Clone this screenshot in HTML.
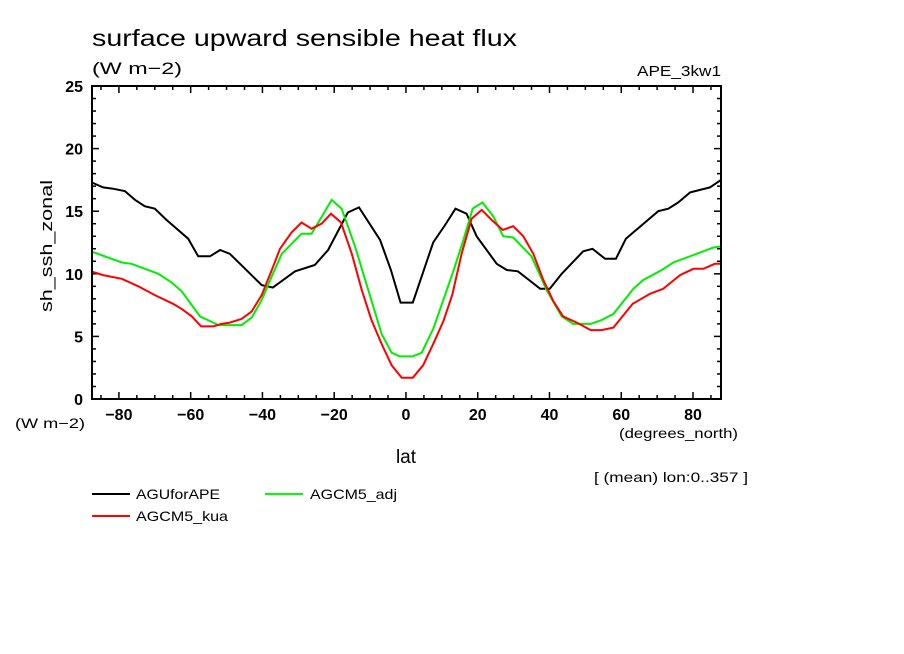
<!DOCTYPE html>
<html><head><meta charset="utf-8"><style>
body{margin:0;background:#fff;}
svg{display:block;font-family:"Liberation Sans",sans-serif;}
</style></head><body>
<svg id="chart" width="904" height="654" viewBox="0 0 904 654">
<text x="92" y="46" font-size="23" textLength="425" lengthAdjust="spacingAndGlyphs">surface upward sensible heat flux</text>
<text x="92" y="74" font-size="17" textLength="90" lengthAdjust="spacingAndGlyphs">(W m−2)</text>
<text x="637" y="76" font-size="15" textLength="84" lengthAdjust="spacingAndGlyphs">APE_3kw1</text>
<g id="axes"></g>
<g id="series" clip-path="url(#clip)"></g>
<defs><clipPath id="clip"><rect x="92" y="86" width="629" height="313"/></clipPath></defs>
<rect x="92" y="86" width="629" height="313" fill="none" stroke="#000" stroke-width="2"/>
<text x="52" y="312" font-size="17" textLength="132" lengthAdjust="spacingAndGlyphs" transform="rotate(-90 52 312)">sh_ssh_zonal</text>
<text x="15" y="428" font-size="14" textLength="70" lengthAdjust="spacingAndGlyphs">(W m−2)</text>
<text x="619" y="438" font-size="14" textLength="119" lengthAdjust="spacingAndGlyphs">(degrees_north)</text>
<text x="406" y="463" font-size="19" text-anchor="middle">lat</text>
<text x="594" y="482" font-size="14" textLength="154" lengthAdjust="spacingAndGlyphs">[ (mean) lon:0..357 ]</text>
<g>
<line x1="92" y1="494" x2="130" y2="494" stroke="#000" stroke-width="2"/>
<text x="136" y="499" font-size="14" textLength="84" lengthAdjust="spacingAndGlyphs">AGUforAPE</text>
<line x1="92" y1="516" x2="130" y2="516" stroke="#f00" stroke-width="2"/>
<text x="136" y="521" font-size="14" textLength="92" lengthAdjust="spacingAndGlyphs">AGCM5_kua</text>
<line x1="265" y1="494" x2="303" y2="494" stroke="#0f0" stroke-width="2"/>
<text x="310" y="499" font-size="14" textLength="87" lengthAdjust="spacingAndGlyphs">AGCM5_adj</text>
</g>
</svg>
<script>
const xTicks=[-80,-60,-40,-20,0,20,40,60,80];
const yTicks=[0,5,10,15,20,25];
const blackLat=[-87.6,-84.4,-81.6,-78.3,-75.5,-72.8,-70,-66.7,-60.7,-57.9,-54.6,-51.8,-49.1,-40.2,-37.1,-30.9,-25.4,-21.7,-16.2,-13.1,-7.2,-4.2,-1.5,1.9,7.6,10.9,13.8,16.9,19.7,25.3,28.1,31.2,37.4,40.1,43.4,49.4,52,55.5,58.5,61.3,66.2,70.3,73.1,75.9,79.2,84.7,87.8];
const blackVal=[17.3,16.9,16.8,16.6,15.9,15.4,15.2,14.3,12.8,11.4,11.4,11.9,11.6,9.1,8.9,10.2,10.7,11.9,14.9,15.3,12.7,10.3,7.7,7.7,12.5,13.9,15.2,14.8,13.0,10.8,10.3,10.2,8.8,8.8,10.0,11.8,12.0,11.2,11.2,12.8,14.0,15.0,15.2,15.7,16.5,16.9,17.5];
const redLat=[-87.8,-84.4,-79.2,-74.6,-70,-64.9,-62.5,-59.7,-57.1,-53.7,-51.4,-49.1,-45.8,-43,-40.2,-37.4,-35.1,-31.9,-29.1,-26.3,-23.5,-20.9,-18.1,-15.1,-12.3,-9.6,-6.8,-4,-1.2,1.9,4.8,7.6,10.4,12.9,15.5,18.3,21.1,23.9,27,29.9,32.7,35.5,38.3,41.1,43.8,47.6,51.5,54.5,57.8,63.2,68,71.7,76.4,80.1,82.9,86.1,88];
const redVal=[10.2,9.9,9.6,9.0,8.3,7.6,7.2,6.6,5.8,5.8,6.0,6.1,6.4,7.0,8.3,10.3,12.0,13.3,14.1,13.6,14.0,14.8,14.1,11.6,8.7,6.3,4.4,2.7,1.7,1.7,2.7,4.4,6.2,8.3,11.6,14.4,15.1,14.3,13.5,13.8,13.0,11.6,9.5,7.8,6.6,6.1,5.5,5.5,5.7,7.6,8.4,8.8,9.9,10.4,10.4,10.8,10.8];
const greenLat=[-87.8,-79.2,-76.5,-69,-65.3,-62.5,-57.4,-53.7,-52.3,-45.8,-43,-40.2,-37.4,-34.6,-29.1,-26.3,-20.7,-17.9,-14.2,-10.5,-6.8,-4,-1.7,1.9,4.4,7.6,10.4,13.2,16,18.6,21.3,24.3,27.1,29.9,35,39.2,43.4,46.6,51.5,54.5,57.8,63.4,66.1,71.3,74.5,80.1,85.7,88];
const greenVal=[11.8,10.9,10.8,10.0,9.3,8.6,6.6,6.1,5.9,5.9,6.5,7.9,9.8,11.6,13.2,13.2,15.9,15.2,12.2,8.7,5.2,3.7,3.4,3.4,3.7,5.6,7.9,10.2,12.7,15.2,15.7,14.6,13.0,12.9,11.4,8.7,6.6,6.0,6.0,6.3,6.8,8.8,9.5,10.3,10.9,11.5,12.1,12.2];
const X0=92,X1=721,Y0=399,Y1=86,LATMIN=-87.5,LATMAX=87.8;
function xs(l){return X0+(l-LATMIN)/(LATMAX-LATMIN)*(X1-X0);}
function ys(v){return Y0-(v/25)*(Y0-Y1);}
const NS='http://www.w3.org/2000/svg';
const ax=document.getElementById('axes');
function ln(x1,y1,x2,y2,name){const l=document.createElementNS(NS,'line');l.setAttribute('x1',x1);l.setAttribute('y1',y1);l.setAttribute('x2',x2);l.setAttribute('y2',y2);l.setAttribute('stroke','#000');l.setAttribute('stroke-width','1.5');


ax.appendChild(l);}
for(let v=0;v<=25;v++){const y=ys(v);const len=v%5===0?7:4;ln(X0,y,X0+len,y,'y-tick');ln(X1,y,X1-len,y,'y-tick');}
for(let l=-85;l<=85;l+=5){const x=xs(l);const len=l%20===0?7:4;ln(x,Y0,x,Y0-len,'x-tick');ln(x,Y1,x,Y1+len,'x-tick');}
yTicks.forEach(v=>{const t=document.createElementNS(NS,'text');t.setAttribute('x',83);t.setAttribute('y',ys(v)+6);t.setAttribute('text-anchor','end');t.setAttribute('font-size','16');t.setAttribute('font-weight','bold');t.textContent=v;


ax.appendChild(t);});
xTicks.forEach(v=>{const t=document.createElementNS(NS,'text');t.setAttribute('x',xs(v));t.setAttribute('y',420);t.setAttribute('text-anchor','middle');t.setAttribute('font-size','16');t.setAttribute('font-weight','bold');t.textContent=v<0?'−'+(-v):v;


ax.appendChild(t);});
const sg=document.getElementById('series');
function draw(lat,val,color,name){const p=document.createElementNS(NS,'polyline');p.setAttribute('points',lat.map((l,i)=>xs(l).toFixed(1)+','+ys(val[i]).toFixed(1)).join(' '));p.setAttribute('fill','none');p.setAttribute('stroke',color);p.setAttribute('stroke-width','2');


sg.appendChild(p);}
draw(blackLat,blackVal,'#000','line-aguforape');
draw(greenLat,greenVal,'#00ee00','line-agcm5-adj');
draw(redLat,redVal,'#f00','line-agcm5-kua');
</script>
</body></html>
